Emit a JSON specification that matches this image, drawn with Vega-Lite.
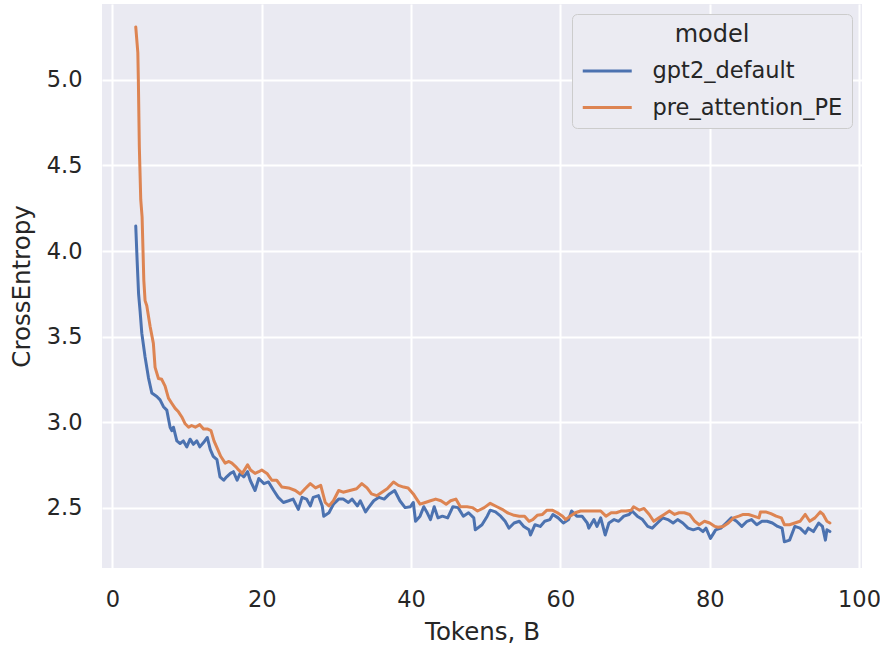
{
"$schema": "https://vega.github.io/schema/vega-lite/v6.json",
"width": 760, "height": 564,
"autosize": "none",
"padding": {"left": 102, "top": 4, "right": 18, "bottom": 79},
"background": "white",
"config": {
  "view": {"fill": "#eaeaf2", "stroke": null},
  "font": "DejaVu Sans",
  "axis": {"grid": true, "gridColor": "white", "gridWidth": 2, "domain": false, "ticks": false,
    "labelFont": "DejaVu Sans", "labelFontSize": 22.5, "labelColor": "#262626",
    "titleFont": "DejaVu Sans", "titleFontSize": 24.5, "titleFontWeight": "normal", "titleColor": "#262626"},
  "legend": {"labelFont": "DejaVu Sans", "titleFont": "DejaVu Sans"}
},
"data": {"values": [
{"model":"gpt2_default","tokens":3.12,"ce":4.146},{"model":"gpt2_default","tokens":3.3,"ce":3.95},{"model":"gpt2_default","tokens":3.5,"ce":3.75},{"model":"gpt2_default","tokens":3.7,"ce":3.65},{"model":"gpt2_default","tokens":3.93,"ce":3.52},{"model":"gpt2_default","tokens":4.37,"ce":3.38},{"model":"gpt2_default","tokens":4.82,"ce":3.26},{"model":"gpt2_default","tokens":5.27,"ce":3.17},{"model":"gpt2_default","tokens":5.94,"ce":3.15},{"model":"gpt2_default","tokens":6.38,"ce":3.13},{"model":"gpt2_default","tokens":6.83,"ce":3.09},{"model":"gpt2_default","tokens":7.28,"ce":3.07},{"model":"gpt2_default","tokens":7.72,"ce":2.97},{"model":"gpt2_default","tokens":7.95,"ce":2.95},{"model":"gpt2_default","tokens":8.17,"ce":2.97},{"model":"gpt2_default","tokens":8.62,"ce":2.89},{"model":"gpt2_default","tokens":9.06,"ce":2.875},{"model":"gpt2_default","tokens":9.5,"ce":2.89},{"model":"gpt2_default","tokens":9.96,"ce":2.855},{"model":"gpt2_default","tokens":10.4,"ce":2.9},{"model":"gpt2_default","tokens":10.85,"ce":2.87},{"model":"gpt2_default","tokens":11.3,"ce":2.89},{"model":"gpt2_default","tokens":11.7,"ce":2.855},{"model":"gpt2_default","tokens":12.2,"ce":2.88},{"model":"gpt2_default","tokens":12.7,"ce":2.91},{"model":"gpt2_default","tokens":13.1,"ce":2.84},{"model":"gpt2_default","tokens":13.5,"ce":2.8},{"model":"gpt2_default","tokens":14.0,"ce":2.78},{"model":"gpt2_default","tokens":14.4,"ce":2.68},{"model":"gpt2_default","tokens":14.9,"ce":2.66},{"model":"gpt2_default","tokens":15.3,"ce":2.68},{"model":"gpt2_default","tokens":15.8,"ce":2.7},{"model":"gpt2_default","tokens":16.2,"ce":2.71},{"model":"gpt2_default","tokens":16.7,"ce":2.66},{"model":"gpt2_default","tokens":17.1,"ce":2.7},{"model":"gpt2_default","tokens":17.6,"ce":2.68},{"model":"gpt2_default","tokens":18.1,"ce":2.71},{"model":"gpt2_default","tokens":18.45,"ce":2.66},{"model":"gpt2_default","tokens":19.1,"ce":2.6},{"model":"gpt2_default","tokens":19.6,"ce":2.67},{"model":"gpt2_default","tokens":20.3,"ce":2.64},{"model":"gpt2_default","tokens":20.9,"ce":2.65},{"model":"gpt2_default","tokens":21.6,"ce":2.6},{"model":"gpt2_default","tokens":22.2,"ce":2.56},{"model":"gpt2_default","tokens":22.9,"ce":2.53},{"model":"gpt2_default","tokens":23.6,"ce":2.54},{"model":"gpt2_default","tokens":24.2,"ce":2.55},{"model":"gpt2_default","tokens":24.9,"ce":2.49},{"model":"gpt2_default","tokens":25.4,"ce":2.56},{"model":"gpt2_default","tokens":26.0,"ce":2.55},{"model":"gpt2_default","tokens":26.5,"ce":2.51},{"model":"gpt2_default","tokens":26.9,"ce":2.56},{"model":"gpt2_default","tokens":27.6,"ce":2.57},{"model":"gpt2_default","tokens":28.1,"ce":2.51},{"model":"gpt2_default","tokens":28.3,"ce":2.45},{"model":"gpt2_default","tokens":29.0,"ce":2.47},{"model":"gpt2_default","tokens":29.6,"ce":2.52},{"model":"gpt2_default","tokens":30.3,"ce":2.55},{"model":"gpt2_default","tokens":30.9,"ce":2.55},{"model":"gpt2_default","tokens":31.6,"ce":2.53},{"model":"gpt2_default","tokens":32.1,"ce":2.55},{"model":"gpt2_default","tokens":32.8,"ce":2.51},{"model":"gpt2_default","tokens":33.2,"ce":2.54},{"model":"gpt2_default","tokens":33.9,"ce":2.475},{"model":"gpt2_default","tokens":34.3,"ce":2.5},{"model":"gpt2_default","tokens":35.0,"ce":2.54},{"model":"gpt2_default","tokens":35.7,"ce":2.56},{"model":"gpt2_default","tokens":36.4,"ce":2.55},{"model":"gpt2_default","tokens":37.1,"ce":2.58},{"model":"gpt2_default","tokens":37.8,"ce":2.6},{"model":"gpt2_default","tokens":38.5,"ce":2.54},{"model":"gpt2_default","tokens":39.2,"ce":2.5},{"model":"gpt2_default","tokens":39.9,"ce":2.505},{"model":"gpt2_default","tokens":40.3,"ce":2.53},{"model":"gpt2_default","tokens":40.6,"ce":2.42},{"model":"gpt2_default","tokens":41.2,"ce":2.45},{"model":"gpt2_default","tokens":41.7,"ce":2.505},{"model":"gpt2_default","tokens":42.1,"ce":2.475},{"model":"gpt2_default","tokens":42.6,"ce":2.43},{"model":"gpt2_default","tokens":43.1,"ce":2.505},{"model":"gpt2_default","tokens":43.6,"ce":2.44},{"model":"gpt2_default","tokens":44.2,"ce":2.45},{"model":"gpt2_default","tokens":44.9,"ce":2.44},{"model":"gpt2_default","tokens":45.6,"ce":2.505},{"model":"gpt2_default","tokens":46.3,"ce":2.5},{"model":"gpt2_default","tokens":47.0,"ce":2.45},{"model":"gpt2_default","tokens":47.7,"ce":2.47},{"model":"gpt2_default","tokens":48.4,"ce":2.44},{"model":"gpt2_default","tokens":48.6,"ce":2.37},{"model":"gpt2_default","tokens":49.5,"ce":2.4},{"model":"gpt2_default","tokens":50.2,"ce":2.45},{"model":"gpt2_default","tokens":50.6,"ce":2.485},{"model":"gpt2_default","tokens":51.3,"ce":2.475},{"model":"gpt2_default","tokens":52.0,"ce":2.45},{"model":"gpt2_default","tokens":52.6,"ce":2.42},{"model":"gpt2_default","tokens":53.1,"ce":2.38},{"model":"gpt2_default","tokens":53.8,"ce":2.41},{"model":"gpt2_default","tokens":54.5,"ce":2.42},{"model":"gpt2_default","tokens":55.1,"ce":2.39},{"model":"gpt2_default","tokens":55.8,"ce":2.37},{"model":"gpt2_default","tokens":56.0,"ce":2.34},{"model":"gpt2_default","tokens":56.6,"ce":2.4},{"model":"gpt2_default","tokens":57.3,"ce":2.39},{"model":"gpt2_default","tokens":57.9,"ce":2.42},{"model":"gpt2_default","tokens":58.6,"ce":2.43},{"model":"gpt2_default","tokens":59.0,"ce":2.46},{"model":"gpt2_default","tokens":59.7,"ce":2.44},{"model":"gpt2_default","tokens":60.4,"ce":2.41},{"model":"gpt2_default","tokens":61.1,"ce":2.43},{"model":"gpt2_default","tokens":61.5,"ce":2.48},{"model":"gpt2_default","tokens":62.2,"ce":2.45},{"model":"gpt2_default","tokens":62.9,"ce":2.45},{"model":"gpt2_default","tokens":63.6,"ce":2.41},{"model":"gpt2_default","tokens":63.8,"ce":2.38},{"model":"gpt2_default","tokens":64.5,"ce":2.43},{"model":"gpt2_default","tokens":64.9,"ce":2.39},{"model":"gpt2_default","tokens":65.4,"ce":2.44},{"model":"gpt2_default","tokens":66.0,"ce":2.34},{"model":"gpt2_default","tokens":66.5,"ce":2.41},{"model":"gpt2_default","tokens":67.2,"ce":2.43},{"model":"gpt2_default","tokens":67.8,"ce":2.42},{"model":"gpt2_default","tokens":68.5,"ce":2.45},{"model":"gpt2_default","tokens":69.2,"ce":2.46},{"model":"gpt2_default","tokens":69.6,"ce":2.48},{"model":"gpt2_default","tokens":70.3,"ce":2.45},{"model":"gpt2_default","tokens":71.0,"ce":2.43},{"model":"gpt2_default","tokens":71.7,"ce":2.39},{"model":"gpt2_default","tokens":72.3,"ce":2.38},{"model":"gpt2_default","tokens":73.0,"ce":2.41},{"model":"gpt2_default","tokens":73.7,"ce":2.44},{"model":"gpt2_default","tokens":74.4,"ce":2.43},{"model":"gpt2_default","tokens":75.1,"ce":2.41},{"model":"gpt2_default","tokens":75.7,"ce":2.43},{"model":"gpt2_default","tokens":76.4,"ce":2.41},{"model":"gpt2_default","tokens":77.1,"ce":2.38},{"model":"gpt2_default","tokens":77.8,"ce":2.37},{"model":"gpt2_default","tokens":78.5,"ce":2.38},{"model":"gpt2_default","tokens":79.1,"ce":2.36},{"model":"gpt2_default","tokens":79.5,"ce":2.38},{"model":"gpt2_default","tokens":80.1,"ce":2.32},{"model":"gpt2_default","tokens":80.8,"ce":2.37},{"model":"gpt2_default","tokens":81.5,"ce":2.38},{"model":"gpt2_default","tokens":82.2,"ce":2.41},{"model":"gpt2_default","tokens":82.9,"ce":2.44},{"model":"gpt2_default","tokens":83.6,"ce":2.42},{"model":"gpt2_default","tokens":84.3,"ce":2.39},{"model":"gpt2_default","tokens":85.0,"ce":2.42},{"model":"gpt2_default","tokens":85.6,"ce":2.43},{"model":"gpt2_default","tokens":86.3,"ce":2.4},{"model":"gpt2_default","tokens":87.0,"ce":2.42},{"model":"gpt2_default","tokens":87.7,"ce":2.42},{"model":"gpt2_default","tokens":88.4,"ce":2.41},{"model":"gpt2_default","tokens":89.1,"ce":2.39},{"model":"gpt2_default","tokens":89.7,"ce":2.38},{"model":"gpt2_default","tokens":90.0,"ce":2.3},{"model":"gpt2_default","tokens":90.7,"ce":2.31},{"model":"gpt2_default","tokens":91.4,"ce":2.39},{"model":"gpt2_default","tokens":92.1,"ce":2.38},{"model":"gpt2_default","tokens":92.8,"ce":2.35},{"model":"gpt2_default","tokens":93.2,"ce":2.38},{"model":"gpt2_default","tokens":93.9,"ce":2.36},{"model":"gpt2_default","tokens":94.6,"ce":2.41},{"model":"gpt2_default","tokens":95.1,"ce":2.39},{"model":"gpt2_default","tokens":95.5,"ce":2.31},{"model":"gpt2_default","tokens":95.7,"ce":2.37},{"model":"gpt2_default","tokens":96.1,"ce":2.36},
{"model":"pre_attention_PE","tokens":3.12,"ce":5.31},{"model":"pre_attention_PE","tokens":3.4,"ce":5.16},{"model":"pre_attention_PE","tokens":3.47,"ce":5.0},{"model":"pre_attention_PE","tokens":3.6,"ce":4.61},{"model":"pre_attention_PE","tokens":3.79,"ce":4.3},{"model":"pre_attention_PE","tokens":3.97,"ce":4.2},{"model":"pre_attention_PE","tokens":4.2,"ce":3.83},{"model":"pre_attention_PE","tokens":4.37,"ce":3.71},{"model":"pre_attention_PE","tokens":4.6,"ce":3.68},{"model":"pre_attention_PE","tokens":5.04,"ce":3.56},{"model":"pre_attention_PE","tokens":5.48,"ce":3.46},{"model":"pre_attention_PE","tokens":5.71,"ce":3.32},{"model":"pre_attention_PE","tokens":6.16,"ce":3.255},{"model":"pre_attention_PE","tokens":6.6,"ce":3.25},{"model":"pre_attention_PE","tokens":7.05,"ce":3.21},{"model":"pre_attention_PE","tokens":7.5,"ce":3.14},{"model":"pre_attention_PE","tokens":7.94,"ce":3.11},{"model":"pre_attention_PE","tokens":8.4,"ce":3.08},{"model":"pre_attention_PE","tokens":8.84,"ce":3.06},{"model":"pre_attention_PE","tokens":9.29,"ce":3.03},{"model":"pre_attention_PE","tokens":9.74,"ce":2.99},{"model":"pre_attention_PE","tokens":10.2,"ce":2.97},{"model":"pre_attention_PE","tokens":10.6,"ce":2.98},{"model":"pre_attention_PE","tokens":11.1,"ce":2.97},{"model":"pre_attention_PE","tokens":11.7,"ce":2.985},{"model":"pre_attention_PE","tokens":12.2,"ce":2.96},{"model":"pre_attention_PE","tokens":12.7,"ce":2.96},{"model":"pre_attention_PE","tokens":13.2,"ce":2.95},{"model":"pre_attention_PE","tokens":13.6,"ce":2.89},{"model":"pre_attention_PE","tokens":14.1,"ce":2.84},{"model":"pre_attention_PE","tokens":14.5,"ce":2.8},{"model":"pre_attention_PE","tokens":15.1,"ce":2.76},{"model":"pre_attention_PE","tokens":15.6,"ce":2.77},{"model":"pre_attention_PE","tokens":16.0,"ce":2.76},{"model":"pre_attention_PE","tokens":16.5,"ce":2.74},{"model":"pre_attention_PE","tokens":16.9,"ce":2.72},{"model":"pre_attention_PE","tokens":17.4,"ce":2.7},{"model":"pre_attention_PE","tokens":18.1,"ce":2.75},{"model":"pre_attention_PE","tokens":18.5,"ce":2.72},{"model":"pre_attention_PE","tokens":19.1,"ce":2.7},{"model":"pre_attention_PE","tokens":19.6,"ce":2.71},{"model":"pre_attention_PE","tokens":20.0,"ce":2.72},{"model":"pre_attention_PE","tokens":20.7,"ce":2.7},{"model":"pre_attention_PE","tokens":21.35,"ce":2.66},{"model":"pre_attention_PE","tokens":22.0,"ce":2.66},{"model":"pre_attention_PE","tokens":22.7,"ce":2.62},{"model":"pre_attention_PE","tokens":23.6,"ce":2.615},{"model":"pre_attention_PE","tokens":24.5,"ce":2.6},{"model":"pre_attention_PE","tokens":25.15,"ce":2.58},{"model":"pre_attention_PE","tokens":25.8,"ce":2.61},{"model":"pre_attention_PE","tokens":26.5,"ce":2.64},{"model":"pre_attention_PE","tokens":27.2,"ce":2.615},{"model":"pre_attention_PE","tokens":27.9,"ce":2.63},{"model":"pre_attention_PE","tokens":28.5,"ce":2.53},{"model":"pre_attention_PE","tokens":29.0,"ce":2.51},{"model":"pre_attention_PE","tokens":29.6,"ce":2.54},{"model":"pre_attention_PE","tokens":30.3,"ce":2.6},{"model":"pre_attention_PE","tokens":30.9,"ce":2.59},{"model":"pre_attention_PE","tokens":31.8,"ce":2.6},{"model":"pre_attention_PE","tokens":32.7,"ce":2.61},{"model":"pre_attention_PE","tokens":33.4,"ce":2.64},{"model":"pre_attention_PE","tokens":34.1,"ce":2.615},{"model":"pre_attention_PE","tokens":34.7,"ce":2.58},{"model":"pre_attention_PE","tokens":35.4,"ce":2.57},{"model":"pre_attention_PE","tokens":36.1,"ce":2.59},{"model":"pre_attention_PE","tokens":36.8,"ce":2.61},{"model":"pre_attention_PE","tokens":37.65,"ce":2.65},{"model":"pre_attention_PE","tokens":38.3,"ce":2.63},{"model":"pre_attention_PE","tokens":39.0,"ce":2.62},{"model":"pre_attention_PE","tokens":39.6,"ce":2.615},{"model":"pre_attention_PE","tokens":40.3,"ce":2.58},{"model":"pre_attention_PE","tokens":40.6,"ce":2.56},{"model":"pre_attention_PE","tokens":41.2,"ce":2.52},{"model":"pre_attention_PE","tokens":41.9,"ce":2.53},{"model":"pre_attention_PE","tokens":42.6,"ce":2.54},{"model":"pre_attention_PE","tokens":43.3,"ce":2.55},{"model":"pre_attention_PE","tokens":44.0,"ce":2.54},{"model":"pre_attention_PE","tokens":44.7,"ce":2.52},{"model":"pre_attention_PE","tokens":45.3,"ce":2.54},{"model":"pre_attention_PE","tokens":46.0,"ce":2.55},{"model":"pre_attention_PE","tokens":46.6,"ce":2.505},{"model":"pre_attention_PE","tokens":47.5,"ce":2.505},{"model":"pre_attention_PE","tokens":48.2,"ce":2.5},{"model":"pre_attention_PE","tokens":48.9,"ce":2.48},{"model":"pre_attention_PE","tokens":49.8,"ce":2.5},{"model":"pre_attention_PE","tokens":50.6,"ce":2.525},{"model":"pre_attention_PE","tokens":51.5,"ce":2.505},{"model":"pre_attention_PE","tokens":52.2,"ce":2.49},{"model":"pre_attention_PE","tokens":52.9,"ce":2.47},{"model":"pre_attention_PE","tokens":53.8,"ce":2.455},{"model":"pre_attention_PE","tokens":54.5,"ce":2.45},{"model":"pre_attention_PE","tokens":55.2,"ce":2.45},{"model":"pre_attention_PE","tokens":55.8,"ce":2.42},{"model":"pre_attention_PE","tokens":56.3,"ce":2.43},{"model":"pre_attention_PE","tokens":56.9,"ce":2.455},{"model":"pre_attention_PE","tokens":57.6,"ce":2.46},{"model":"pre_attention_PE","tokens":58.2,"ce":2.485},{"model":"pre_attention_PE","tokens":58.9,"ce":2.485},{"model":"pre_attention_PE","tokens":59.6,"ce":2.47},{"model":"pre_attention_PE","tokens":60.3,"ce":2.45},{"model":"pre_attention_PE","tokens":60.7,"ce":2.43},{"model":"pre_attention_PE","tokens":61.3,"ce":2.45},{"model":"pre_attention_PE","tokens":62.0,"ce":2.47},{"model":"pre_attention_PE","tokens":62.7,"ce":2.48},{"model":"pre_attention_PE","tokens":63.4,"ce":2.48},{"model":"pre_attention_PE","tokens":64.1,"ce":2.48},{"model":"pre_attention_PE","tokens":64.8,"ce":2.48},{"model":"pre_attention_PE","tokens":65.4,"ce":2.48},{"model":"pre_attention_PE","tokens":66.1,"ce":2.45},{"model":"pre_attention_PE","tokens":66.8,"ce":2.47},{"model":"pre_attention_PE","tokens":67.5,"ce":2.47},{"model":"pre_attention_PE","tokens":68.1,"ce":2.48},{"model":"pre_attention_PE","tokens":68.8,"ce":2.48},{"model":"pre_attention_PE","tokens":69.5,"ce":2.485},{"model":"pre_attention_PE","tokens":69.8,"ce":2.505},{"model":"pre_attention_PE","tokens":70.6,"ce":2.485},{"model":"pre_attention_PE","tokens":71.2,"ce":2.495},{"model":"pre_attention_PE","tokens":71.9,"ce":2.46},{"model":"pre_attention_PE","tokens":72.5,"ce":2.42},{"model":"pre_attention_PE","tokens":73.2,"ce":2.44},{"model":"pre_attention_PE","tokens":73.9,"ce":2.46},{"model":"pre_attention_PE","tokens":74.6,"ce":2.48},{"model":"pre_attention_PE","tokens":75.3,"ce":2.46},{"model":"pre_attention_PE","tokens":75.9,"ce":2.47},{"model":"pre_attention_PE","tokens":76.6,"ce":2.47},{"model":"pre_attention_PE","tokens":77.3,"ce":2.46},{"model":"pre_attention_PE","tokens":78.0,"ce":2.42},{"model":"pre_attention_PE","tokens":78.6,"ce":2.4},{"model":"pre_attention_PE","tokens":79.3,"ce":2.42},{"model":"pre_attention_PE","tokens":80.0,"ce":2.41},{"model":"pre_attention_PE","tokens":80.7,"ce":2.39},{"model":"pre_attention_PE","tokens":81.1,"ce":2.385},{"model":"pre_attention_PE","tokens":81.8,"ce":2.39},{"model":"pre_attention_PE","tokens":82.5,"ce":2.41},{"model":"pre_attention_PE","tokens":83.2,"ce":2.44},{"model":"pre_attention_PE","tokens":83.9,"ce":2.45},{"model":"pre_attention_PE","tokens":84.5,"ce":2.46},{"model":"pre_attention_PE","tokens":85.2,"ce":2.46},{"model":"pre_attention_PE","tokens":85.9,"ce":2.45},{"model":"pre_attention_PE","tokens":86.6,"ce":2.44},{"model":"pre_attention_PE","tokens":86.8,"ce":2.475},{"model":"pre_attention_PE","tokens":87.5,"ce":2.475},{"model":"pre_attention_PE","tokens":88.2,"ce":2.465},{"model":"pre_attention_PE","tokens":88.9,"ce":2.45},{"model":"pre_attention_PE","tokens":89.6,"ce":2.44},{"model":"pre_attention_PE","tokens":90.0,"ce":2.4},{"model":"pre_attention_PE","tokens":90.7,"ce":2.4},{"model":"pre_attention_PE","tokens":91.4,"ce":2.41},{"model":"pre_attention_PE","tokens":92.1,"ce":2.42},{"model":"pre_attention_PE","tokens":92.8,"ce":2.46},{"model":"pre_attention_PE","tokens":93.4,"ce":2.42},{"model":"pre_attention_PE","tokens":94.1,"ce":2.44},{"model":"pre_attention_PE","tokens":94.8,"ce":2.475},{"model":"pre_attention_PE","tokens":95.2,"ce":2.46},{"model":"pre_attention_PE","tokens":95.7,"ce":2.42},{"model":"pre_attention_PE","tokens":96.1,"ce":2.41}
]},
"mark": {"type": "line", "strokeWidth": 3, "strokeJoin": "round", "strokeCap": "round"},
"encoding": {
  "x": {"field": "tokens", "type": "quantitative", "title": "Tokens, B",
    "scale": {"domain": [-1.4, 100.4], "nice": false, "zero": false},
    "axis": {"values": [0, 20, 40, 60, 80, 100], "labelPadding": 20, "titlePadding": 10}},
  "y": {"field": "ce", "type": "quantitative", "title": "CrossEntropy",
    "scale": {"domain": [2.147, 5.444], "nice": false, "zero": false},
    "axis": {"values": [2.5, 3.0, 3.5, 4.0, 4.5, 5.0], "format": ".1f", "labelPadding": 20, "titlePadding": 12}},
  "color": {"field": "model", "type": "nominal",
    "scale": {"domain": ["gpt2_default", "pre_attention_PE"], "range": ["#4c72b0", "#dd8452"]},
    "legend": {"title": "model", "orient": "top-right", "offset": 10,
      "fillColor": "#ebebf2", "strokeColor": "#cccccc", "cornerRadius": 5, "padding": 9,
      "titleFontSize": 24, "titleFontWeight": "normal", "titleColor": "#262626", "titleAnchor": "middle", "titleAlign": "center", "titlePadding": 10,
      "labelFontSize": 22.5, "labelColor": "#262626", "labelOffset": 43.5, "labelLimit": 400,
      "symbolType": "M-1,0H3", "symbolSize": 600, "symbolStrokeWidth": 3, "rowPadding": 10.5}}
}
}
